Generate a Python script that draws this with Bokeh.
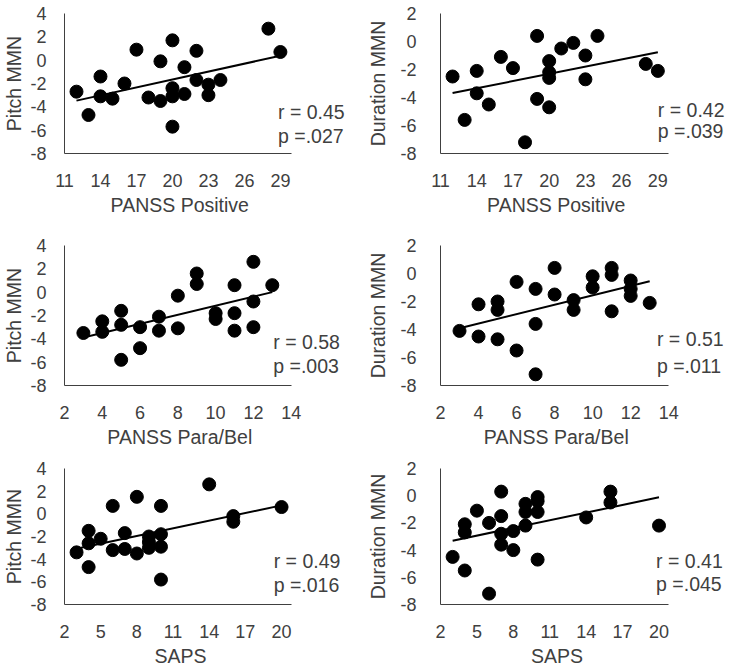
import numpy as np
from bokeh.plotting import figure
from bokeh.models import Range1d, FixedTicker, Label, Title, PrintfTickFormatter
from bokeh.layouts import column, row
from bokeh.embed import file_html
from bokeh.resources import INLINE

# ---------------- data ----------------
pos_pitch_x = [12, 13, 14, 14, 15, 16, 17, 18, 19, 19, 20, 20, 20, 20, 21, 21, 22, 22, 23, 23, 24, 28, 29]
pos_pitch_y = [-2.7, -4.7, -1.4, -3.1, -3.3, -2.0, 0.9, -3.2, -3.5, -0.1, 1.7, -2.4, -3.1, -5.7, -0.6, -2.9,
               -1.7, 0.8, -2.1, -3.0, -1.7, 2.7, 0.7]

pos_dur_x = [12, 13, 14, 14, 15, 16, 17, 18, 19, 19, 20, 20, 20, 20, 21, 22, 23, 23, 24, 28, 29]
pos_dur_y = [-2.5, -5.6, -2.1, -3.7, -4.5, -1.1, -1.9, -7.2, 0.4, -4.1, -1.4, -2.2, -2.6, -4.7, -0.5, -0.1,
             -1.0, -2.7, 0.4, -1.6, -2.1]

para_pitch_x = [3, 4, 4, 5, 5, 5, 6, 6, 7, 7, 8, 8, 9, 9, 10, 10, 11, 11, 11, 12, 12, 12, 13]
para_pitch_y = [-3.5, -2.5, -3.4, -1.6, -2.8, -5.8, -3.0, -4.8, -2.1, -3.3, -0.3, -3.1, 1.6, 0.7, -1.8, -2.3,
                0.6, -1.8, -3.3, 2.6, -0.8, -3.0, 0.6]

para_dur_x = [3, 4, 4, 5, 5, 5, 6, 6, 7, 7, 7, 8, 8, 9, 9, 10, 10, 11, 11, 11, 12, 12, 12, 13]
para_dur_y = [-4.1, -2.2, -4.5, -2.0, -2.6, -4.7, -0.6, -5.5, -1.1, -3.6, -7.2, 0.4, -1.5, -1.9, -2.6, -0.2,
              -1.0, 0.4, -0.1, -2.7, -0.5, -1.1, -1.6, -2.1]

saps_pitch_x = [3, 4, 4, 4, 5, 6, 6, 7, 7, 8, 8, 9, 9, 9, 10, 10, 10, 10, 14, 16, 16, 20]
saps_pitch_y = [-3.4, -1.5, -2.6, -4.7, -2.2, 0.7, -3.2, -1.7, -3.1, 1.5, -3.5, -2.0, -2.5, -3.0, 0.7, -1.8,
                -2.9, -5.8, 2.6, -0.2, -0.7, 0.6]

saps_dur_x = [3, 4, 4, 4, 5, 6, 6, 7, 7, 7, 7, 8, 8, 9, 9, 9, 10, 10, 10, 10, 14, 16, 16, 20]
saps_dur_y = [-4.5, -2.1, -2.7, -5.5, -1.1, -2.0, -7.2, 0.3, -1.5, -2.8, -3.6, -2.6, -4.0, -0.6, -1.2, -2.2,
              -0.1, -0.4, -1.2, -4.7, -1.6, 0.3, -0.5, -2.2]

pos_ticks = [11, 14, 17, 20, 23, 26, 29]
para_ticks = [2, 4, 6, 8, 10, 12, 14]
saps_ticks = [2, 5, 8, 11, 14, 17, 20]
pitch_ticks = [-8, -6, -4, -2, 0, 2, 4]
dur_ticks = [-8, -6, -4, -2, 0, 2]

stats_r = ["r = 0.45", "r = 0.42", "r = 0.58", "r = 0.51", "r = 0.49", "r = 0.41"]
stats_p = ["p =.027", "p =.039", "p =.003", "p =.011", "p =.016", "p =.045"]

FONT = "Liberation Sans"
TXT = "#404040"
TITLE_PX = 19.5

# Arial / Liberation Sans advance widths (per 1000 em) used to centre the x titles
ADV = {"P": 667, "A": 667, "N": 722, "S": 667, " ": 278, "o": 556, "s": 500, "i": 222, "t": 278,
       "v": 500, "e": 556, "a": 556, "r": 333, "/": 278, "B": 667, "l": 222}


def text_w(s, px):
    return sum(ADV.get(c, 556) for c in s) * px / 1000.0


def panel(x, y, xr, yr, xticks, yticks, xlabel, ylabel, rtxt, ptxt, lab_x, r_y, p_y,
          width, height, bl, br, bt, bb, axis_px, ystand, ylabstand):
    frame_w = width - bl - br
    # extend the frame to the right (room for the r/p texts) while keeping the axis scale
    x_end = xr[0] + (xr[1] - xr[0]) * frame_w / axis_px
    p = figure(width=width, height=height, x_range=Range1d(xr[0], x_end), y_range=Range1d(*yr),
               output_backend="svg", toolbar_location=None,
               min_border_left=bl, min_border_right=br, min_border_top=bt, min_border_bottom=bb)
    p.xgrid.visible = False
    p.ygrid.visible = False
    p.outline_line_color = None
    p.xaxis.ticker = FixedTicker(ticks=xticks)
    p.yaxis.ticker = FixedTicker(ticks=yticks)
    p.xaxis.formatter = PrintfTickFormatter(format="%d")
    p.yaxis.formatter = PrintfTickFormatter(format="%d")
    p.xaxis.bounds = (xr[0], xr[1])
    for ax in (p.xaxis[0], p.yaxis[0]):
        ax.major_tick_line_color = None
        ax.minor_tick_line_color = None
        ax.axis_line_color = "#404040"
        ax.axis_line_width = 1
        ax.major_label_text_font = FONT
        ax.major_label_text_font_size = "18px"
        ax.major_label_text_color = TXT
        ax.axis_label_text_font = FONT
        ax.axis_label_text_font_size = f"{TITLE_PX}px"
        ax.axis_label_text_font_style = "normal"
        ax.axis_label_text_color = TXT
    p.yaxis.axis_label = ylabel
    p.xaxis.major_label_standoff = 14
    p.yaxis.major_label_standoff = ystand
    p.yaxis.axis_label_standoff = ylabstand

    # x-axis title centred under the drawn axis line (not under the widened frame)
    off = axis_px / 2.0 - text_w(xlabel, TITLE_PX) / 2.0
    p.add_layout(Title(text=xlabel, align="left", offset=off,
                       text_font=FONT, text_font_size=f"{TITLE_PX}px", text_font_style="normal",
                       text_color=TXT, standoff=4), "below")

    fit = np.polyfit(x, y, 1)
    xs = [min(x), max(x)]
    p.line(xs, list(np.polyval(fit, xs)), line_color="black", line_width=2)
    p.scatter(x, y, size=13, fill_color="black", line_color="black")

    for t, yy in ((rtxt, r_y), (ptxt, p_y)):
        p.add_layout(Label(x=lab_x, y=yy, text=t, text_font=FONT, text_font_size=f"{TITLE_PX}px",
                           text_color=TXT, text_align="left", text_baseline="middle"))
    return p


LW, RW = 364, 362
H1, H2, H3 = 233, 223, 212

f1 = panel(pos_pitch_x, pos_pitch_y, (11, 29.9), (-8, 4), pos_ticks, pitch_ticks,
           "PANSS Positive", "Pitch MMN", stats_r[0], stats_p[0], 28.8, -4.4, -6.5,
           LW, H1, 57, 1, 13, 80, 232, 12, 2)
f2 = panel(pos_dur_x, pos_dur_y, (11, 29.9), (-8, 2), pos_ticks, dur_ticks,
           "PANSS Positive", "Duration MMN", stats_r[1], stats_p[1], 29.0, -4.9, -6.4,
           RW, H1, 70, 0, 13, 80, 233, 18, 8)
f3 = panel(para_pitch_x, para_pitch_y, (2, 14), (-8, 4), para_ticks, pitch_ticks,
           "PANSS Para/Bel", "Pitch MMN", stats_r[2], stats_p[2], 13.05, -4.26, -6.34,
           LW, H2, 57, 1, 12, 71, 232, 12, 2)
f4 = panel(para_dur_x, para_dur_y, (2, 14), (-8, 2), para_ticks, dur_ticks,
           "PANSS Para/Bel", "Duration MMN", stats_r[3], stats_p[3], 13.38, -4.66, -6.63,
           RW, H2, 70, 0, 12, 71, 233, 18, 8)
f5 = panel(saps_pitch_x, saps_pitch_y, (2, 20.8), (-8, 4), saps_ticks, pitch_ticks,
           "SAPS", "Pitch MMN", stats_r[4], stats_p[4], 19.35, -4.17, -6.28,
           LW, H3, 57, 1, 12, 60, 232, 12, 2)
f6 = panel(saps_dur_x, saps_dur_y, (2, 20.8), (-8, 2), saps_ticks, dur_ticks,
           "SAPS", "Duration MMN", stats_r[5], stats_p[5], 19.76, -4.77, -6.47,
           RW, H3, 70, 0, 12, 60, 233, 18, 8)

layout = column(row(f1, f2), row(f3, f4), row(f5, f6))
open("out.html", "w").write(file_html(layout, INLINE))
